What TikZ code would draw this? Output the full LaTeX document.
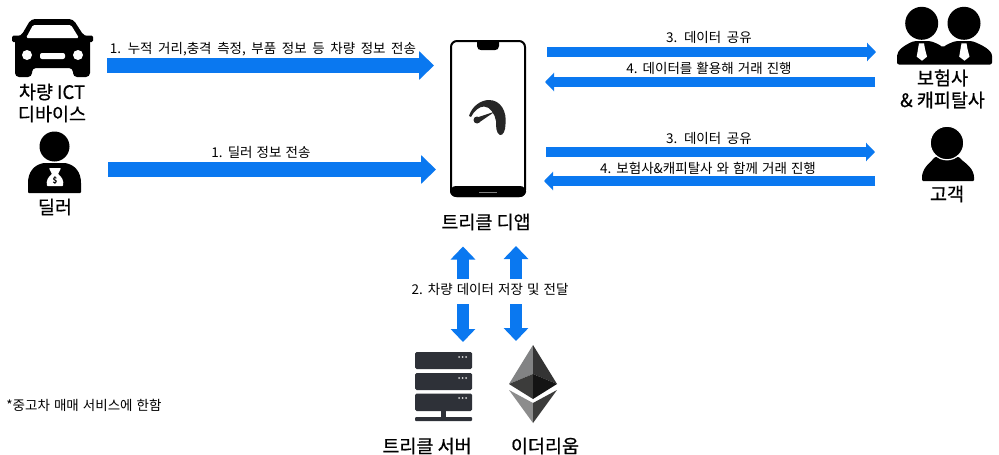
\documentclass[tikz,border=0pt]{standalone}
\usepackage{fontspec}
\setmainfont{Noto Sans CJK KR}
\newfontfamily\krn[WordSpace=1.35]{Noto Sans CJK KR}
\newfontfamily\krb[FakeBold=0.6]{Noto Sans CJK KR}
\usetikzlibrary{arrows.meta}
\definecolor{flow}{HTML}{0A78F0}
\definecolor{srv}{HTML}{2E3138}
\definecolor{ethA}{HTML}{828384}
\definecolor{ethB}{HTML}{343434}
\definecolor{ethC}{HTML}{3C3C3B}
\definecolor{ethD}{HTML}{141414}
\definecolor{ethE}{HTML}{8C8C8C}
\definecolor{gaugeink}{HTML}{262626}
\newcommand{\widewords}{\spaceskip 5.6pt\relax}
\tikzset{
  x=1pt,y=-1pt,
  bigflow/.style={draw=flow,line width=15pt,-{Triangle[length=15pt,width=28pt]}},
  midflow/.style={draw=flow,line width=9.5pt,-{Triangle[length=9pt,width=18pt]}},
  vflow/.style={draw=flow,line width=12pt,-{Triangle[length=13pt,width=24pt]}},
  flowlabel/.style={font=\fontsize{13.5}{15}\selectfont\krn,text=black,inner sep=0pt},
  biglabel/.style={font=\fontsize{18.5}{22}\selectfont\krb,text=black,align=center,inner sep=0pt},
  ink/.style={fill=black,draw=none},
  cutout/.style={fill=white,draw=none},
}
\begin{document}
\begin{tikzpicture}
\useasboundingbox (0,0) rectangle (999,455);
\fill[white] (0,0) rectangle (999,455);
% anchors
\coordinate (carR) at (107,65.5);
\coordinate (dealerR) at (108,169.5);
\coordinate (phoneL1) at (434,65.5);
\coordinate (phoneL2) at (436,169.5);
\coordinate (phoneR1) at (547,52);
\coordinate (phoneR2) at (545,82);
\coordinate (phoneR3) at (546,152);
\coordinate (phoneR4) at (544,181);
\coordinate (insL1) at (876,52);
\coordinate (insL2) at (875,82);
\coordinate (custL1) at (875,152);
\coordinate (custL2) at (875,181);
\coordinate (upA) at (463,279);
\coordinate (upB) at (516,279);
\coordinate (appA) at (463,246.5);
\coordinate (appB) at (516,246);
\coordinate (dnA) at (463,304);
\coordinate (dnB) at (516,304);
\coordinate (srvT) at (463,342);
\coordinate (ethT) at (516,341);
% connectors
\draw[bigflow] (carR) -- (phoneL1);
\draw[bigflow] (dealerR) -- (phoneL2);
\draw[midflow] (phoneR1) -- (insL1);
\draw[midflow] (insL2) -- (phoneR2);
\draw[midflow] (phoneR3) -- (custL1);
\draw[midflow] (custL2) -- (phoneR4);
\draw[vflow] (upA) -- (appA);
\draw[vflow] (upB) -- (appB);
\draw[vflow] (dnA) -- (srvT);
\draw[vflow] (dnB) -- (ethT);
% flow labels
\node[flowlabel] (l1) at (263,49) {\widewords 1. 누적 거리,충격 측정, 부품 정보 등 차량 정보 전송};
\node[flowlabel] (l2) at (261,152) {1. 딜러 정보 전송};
\node[flowlabel] (l3) at (709,37) {\widewords 3. 데이터 공유};
\node[flowlabel] (l4) at (709,68) {4. 데이터를 활용해 거래 진행};
\node[flowlabel] (l5) at (709,138) {\widewords 3. 데이터 공유};
\node[flowlabel] (l6) at (708,168) {4. 보험사\&캐피탈사 와 함께 거래 진행};
\node[flowlabel] (l7) at (490,289) {2. 차량 데이터 저장 및 전달};
\node[flowlabel] (note) at (84,405) {*중고차 매매 서비스에 한함};
% big labels
\node[biglabel] (carT) at (52,103) {차량 ICT\\디바이스};
\node[biglabel] (dealerT) at (55,207) {딜러};
\node[biglabel] (insT) at (942.5,89) {보험사\\\& 캐피탈사};
\node[biglabel] (custT) at (947,194) {고객};
\node[biglabel] (appT) at (486,222) {트리클 디앱};
\node[biglabel] (srvN) at (427,446) {트리클 서버};
\node[biglabel] (ethN) at (545,446) {이더리움};
% car
\fill[ink,rounded corners=4pt] (31,19) -- (73,19) -- (84,36) -- (90,37) -- (90,77) -- (73,77) -- (73,68) -- (32,68) -- (32,77) -- (15,77) -- (15,37) -- (21,36) -- cycle;
\fill[ink,rounded corners=1.5pt] (12,35.5) rectangle (22,42);
\fill[ink,rounded corners=1.5pt] (83,35.5) rectangle (93,42);
\fill[cutout,rounded corners=1.5pt] (33,25) -- (71,25) -- (79,38) -- (26,38) -- cycle;
\fill[cutout] (27,55) circle (5);
\fill[cutout] (78,55) circle (5);
\fill[cutout,rounded corners=2pt] (40,53) rectangle (65,59);
% dealer
\fill[ink] (54.5,146.5) circle (15);
\fill[ink,rounded corners=1pt] (28,193) -- (28,184) .. controls (28,172) and (34,165) .. (44,163) -- (65,163) .. controls (75,165) and (81,172) .. (81,184) -- (81,193) -- cycle;
\fill[cutout,rounded corners=0.7pt] (49,168) -- (61,168) -- (58,174) .. controls (62,177) and (64,181) .. (63,186) -- (47,186) .. controls (46,181) and (48,177) .. (52,174) -- cycle;
\node[font=\fontsize{8}{8}\selectfont\bfseries,inner sep=0pt] (dollar) at (55,180.5) {\$};
% phone
\draw[black,line width=2pt,rounded corners=6pt] (451,41) rectangle (525,196);
\fill[ink,rounded corners=6pt] (450,186) -- (526,186) -- (526,197) -- (450,197) -- cycle;
\fill[ink] (477,41) -- (499,41) -- (499,46) .. controls (499,49) and (497,50) .. (495,50) -- (481,50) .. controls (479,50) and (477,49) .. (477,46) -- cycle;
\draw[gray,line width=0.8pt] (479,192) -- (497,192);
% gauge
\fill[gaugeink] (469,116) .. controls (472,106) and (481,100) .. (489,100) .. controls (501,100) and (507,112) .. (505.5,124) .. controls (505.5,131) and (503,135.5) .. (500,135) .. controls (496,133) and (496,127) .. (496,121) .. controls (495,114) and (490,106.5) .. (484,106.5) .. controls (479,106.5) and (474,111) .. (471,117) -- cycle;
\fill[gaugeink] (477,120) circle (3.5);
\fill[gaugeink] (495,111.5) -- (477,117.5) -- (479,122.5) -- cycle;
% insurer
\fill[ink,rounded corners=2pt] (897,64.5) -- (897,58) .. controls (897,50) and (905,45) .. (914,41) -- (930,41) .. controls (936,43) and (940,45) .. (942.7,47.7) .. controls (946,45) and (950,43) .. (956,41) -- (972,41) .. controls (982,45) and (992,50) .. (992,58) -- (992,64.5) -- cycle;
\fill[ink] (921.7,23.3) circle (16.5);
\fill[ink] (964,23.3) circle (16.5);
\fill[cutout] (919,43.3) -- (924,43.3) -- (925,49) -- (927,56.7) -- (922,60.7) -- (916.7,56.7) -- (918,49) -- cycle;
\fill[cutout] (961.5,43.3) -- (966.5,43.3) -- (967.5,49) -- (969.5,56.7) -- (964.5,60.7) -- (959.2,56.7) -- (960.5,49) -- cycle;
% customer
\fill[ink,rounded corners=1pt] (922,181) -- (922,176) .. controls (924,166) and (931,162) .. (935,157) -- (959,157) .. controls (963,162) and (972,166) .. (974,176) -- (974,181) -- cycle;
\draw[white,line width=1.2pt,fill=black] (947,143) circle (16.8);
% server
\fill[srv,rounded corners=1.5pt] (415,352) rectangle (472,369);
\fill[srv,rounded corners=1.5pt] (415,373) rectangle (472,390);
\fill[srv,rounded corners=1.5pt] (415,393.5) rectangle (472,411);
\fill[srv] (441,411) rectangle (446,417);
\fill[srv,rounded corners=1pt] (415,417) rectangle (472,421);
\foreach \y in {357,378,398}{\foreach \x in {459,462.5,466}{\fill[white!85!black] (\x,\y) circle (1);}}
% ethereum
\fill[ethA] (533,345) -- (509,384) -- (533,374) -- cycle;
\fill[ethB] (533,345) -- (557,384) -- (533,374) -- cycle;
\fill[ethC] (533,374) -- (509,384) -- (533,399) -- cycle;
\fill[ethD] (533,374) -- (557,384) -- (533,399) -- cycle;
\fill[ethE] (509,390) -- (533,403) -- (533,423) -- cycle;
\fill[ethC] (557,390) -- (533,403) -- (533,423) -- cycle;
\end{tikzpicture}
\end{document}
